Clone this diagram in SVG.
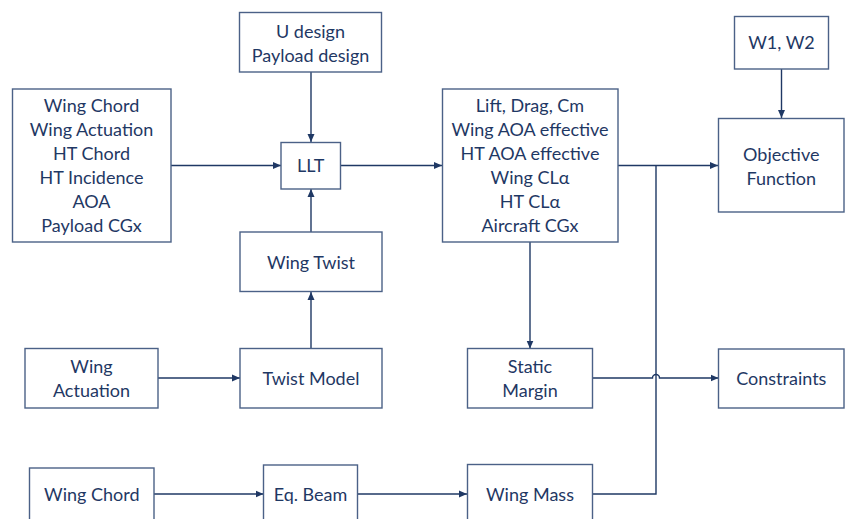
<svg xmlns="http://www.w3.org/2000/svg" width="845" height="519" viewBox="0 0 845 519">
  <style>
    .box { fill: #ffffff; stroke: #4b6187; stroke-width: 1.4; }
    .lbl { font-family: Lato, "Liberation Sans", sans-serif; font-size: 18px; fill: #1f3864; text-anchor: middle; }
    .wire { fill: none; stroke: #1f3864; stroke-width: 1.4; }
  </style>
  <defs>
    <marker id="arrow" viewBox="0 0 8 8" refX="8" refY="4" markerWidth="8" markerHeight="8" markerUnits="userSpaceOnUse" orient="auto">
      <path d="M0,0.5 L8,4 L0,7.5 Z" fill="#1f3864"/>
    </marker>
  </defs>
  <rect width="845" height="519" fill="#ffffff"/>

  <!-- connectors -->
  <g id="connectors">
    <path class="wire" d="M311,72 V142" marker-end="url(#arrow)"/>
    <path class="wire" d="M171,165.5 H281" marker-end="url(#arrow)"/>
    <path class="wire" d="M340.5,165.5 H442" marker-end="url(#arrow)"/>
    <path class="wire" d="M311,232 V189" marker-end="url(#arrow)"/>
    <path class="wire" d="M311,348.5 V292" marker-end="url(#arrow)"/>
    <path class="wire" d="M158,378 H240" marker-end="url(#arrow)"/>
    <path class="wire" d="M618,165.5 H718" marker-end="url(#arrow)"/>
    <path class="wire" d="M530,242 V348.5" marker-end="url(#arrow)"/>
    <path class="wire" d="M781.5,69 V118" marker-end="url(#arrow)"/>
    <path class="wire" d="M593,378 H652.5 A3.5,3.5 0 0 1 659.5,378 H718.5" marker-end="url(#arrow)"/>
    <path class="wire" d="M154,494 H263.5" marker-end="url(#arrow)"/>
    <path class="wire" d="M357.5,494 H467" marker-end="url(#arrow)"/>
    <path class="wire" d="M593,494 H656 V165.5"/>
  </g>

  <!-- nodes -->
  <g id="n-inputs-design">
    <rect class="box" x="239.5" y="12.5" width="142" height="59.5"/>
    <text class="lbl" x="310.5" y="37.5">U design</text>
    <text class="lbl" x="310.5" y="61.5">Payload design</text>
  </g>
  <g id="n-inputs-geometry">
    <rect class="box" x="12.5" y="89" width="158.5" height="153"/>
    <text class="lbl" x="91.5" y="111.5">Wing Chord</text>
    <text class="lbl" x="91.5" y="135.5">Wing Actuation</text>
    <text class="lbl" x="91.5" y="159.5">HT Chord</text>
    <text class="lbl" x="91.5" y="183.5">HT Incidence</text>
    <text class="lbl" x="91.5" y="207.5">AOA</text>
    <text class="lbl" x="91.5" y="231.5">Payload CGx</text>
  </g>
  <g id="n-llt">
    <rect class="box" x="281" y="142.5" width="59.5" height="46.5"/>
    <text class="lbl" x="310.8" y="172">LLT</text>
  </g>
  <g id="n-wing-twist">
    <rect class="box" x="240" y="232" width="142" height="59.5"/>
    <text class="lbl" x="311" y="268.5">Wing Twist</text>
  </g>
  <g id="n-wing-actuation">
    <rect class="box" x="25" y="348.5" width="133" height="59.5"/>
    <text class="lbl" x="91.5" y="372.5">Wing</text>
    <text class="lbl" x="91.5" y="396.5">Actuation</text>
  </g>
  <g id="n-twist-model">
    <rect class="box" x="240" y="348.5" width="142" height="59.5"/>
    <text class="lbl" x="311" y="384.5">Twist Model</text>
  </g>
  <g id="n-aero-outputs">
    <rect class="box" x="442.5" y="89" width="175.5" height="153"/>
    <text class="lbl" x="530" y="111.5">Lift, Drag, Cm</text>
    <text class="lbl" x="530" y="135.5">Wing AOA effective</text>
    <text class="lbl" x="530" y="159.5">HT AOA effective</text>
    <text class="lbl" x="530" y="183.5">Wing CLα</text>
    <text class="lbl" x="530" y="207.5">HT CLα</text>
    <text class="lbl" x="530" y="231.5">Aircraft CGx</text>
  </g>
  <g id="n-static-margin">
    <rect class="box" x="467.5" y="348.5" width="125" height="59.5"/>
    <text class="lbl" x="530" y="372.5">Static</text>
    <text class="lbl" x="530" y="396.5">Margin</text>
  </g>
  <g id="n-weights">
    <rect class="box" x="734.5" y="16.5" width="94" height="52.5"/>
    <text class="lbl" x="781.5" y="49">W1, W2</text>
  </g>
  <g id="n-objective">
    <rect class="box" x="718.5" y="118.5" width="125.5" height="93.5"/>
    <text class="lbl" x="781.3" y="160.5">Objective</text>
    <text class="lbl" x="781.3" y="184.5">Function</text>
  </g>
  <g id="n-constraints">
    <rect class="box" x="718.5" y="349" width="125.5" height="59"/>
    <text class="lbl" x="781.3" y="384.5">Constraints</text>
  </g>
  <g id="n-wing-chord">
    <rect class="box" x="29.5" y="468" width="124.5" height="60"/>
    <text class="lbl" x="91.8" y="500.5">Wing Chord</text>
  </g>
  <g id="n-eq-beam">
    <rect class="box" x="263.5" y="465" width="94" height="63"/>
    <text class="lbl" x="310.5" y="500.5">Eq. Beam</text>
  </g>
  <g id="n-wing-mass">
    <rect class="box" x="467.5" y="464.5" width="125" height="63.5"/>
    <text class="lbl" x="530" y="500.5">Wing Mass</text>
  </g>
</svg>
